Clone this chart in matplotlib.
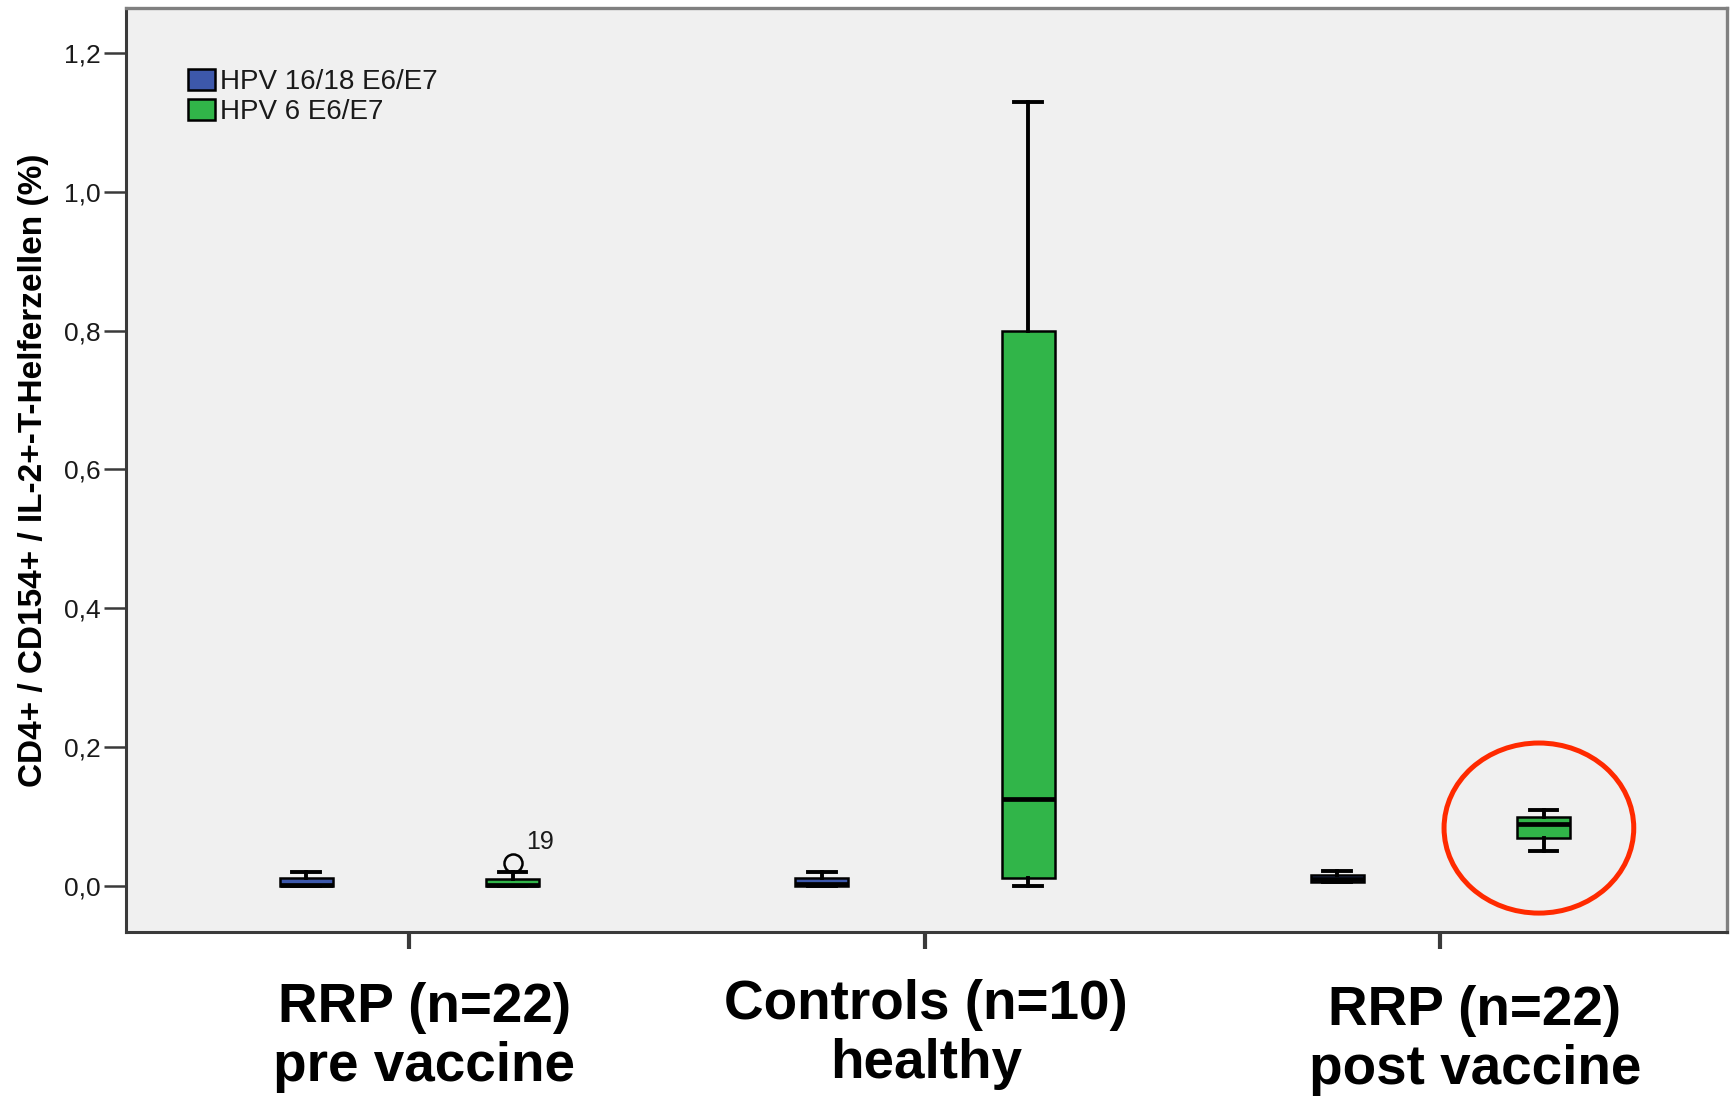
"""Boxplot of CD4+/CD154+/IL-2+ T helper cells per group and antigen."""
import matplotlib

matplotlib.use("Agg")
import matplotlib.pyplot as plt
from matplotlib.patches import Ellipse, Patch
from matplotlib.ticker import FuncFormatter
from matplotlib.transforms import blended_transform_factory

plt.rcParams["font.family"] = ["Liberation Sans", "DejaVu Sans"]

# Data (percent)
groups = ["RRP (n=22)\npre vaccine", "Controls (n=10)\nhealthy", "RRP (n=22)\npost vaccine"]
series = ["HPV 16/18 E6/E7", "HPV 6 E6/E7"]

hpv16_q1 = [0.0, 0.0, 0.006]
hpv16_med = [0.002, 0.003, 0.010]
hpv16_q3 = [0.012, 0.012, 0.016]
hpv16_lo = [0.0, 0.0, 0.006]
hpv16_hi = [0.020, 0.020, 0.022]

hpv6_q1 = [0.0, 0.011, 0.069]
hpv6_med = [0.002, 0.125, 0.090]
hpv6_q3 = [0.010, 0.800, 0.100]
hpv6_lo = [0.0, 0.0, 0.050]
hpv6_hi = [0.020, 1.130, 0.110]
hpv6_fliers = [[0.033], [], []]
flier_labels = [["19"], [], []]

yticks = [0.0, 0.2, 0.4, 0.6, 0.8, 1.0, 1.2]

# Colors
col_bg = "#f0f0f0"
col_blue = "#3d58ab"
col_green = "#31b549"
col_dark = "#3a3a3a"
col_light = "#808080"
col_circle = "#ff2a00"
col_text = "#1a1a1a"

OFFSET = 0.2
BOX_W = 0.103


def make_stats(q1, med, q3, lo, hi, fliers=None):
    stats = []
    for i in range(len(q1)):
        stats.append(
            {
                "q1": q1[i],
                "med": med[i],
                "q3": q3[i],
                "whislo": lo[i],
                "whishi": hi[i],
                "fliers": fliers[i] if fliers else [],
            }
        )
    return stats


fig = plt.figure(figsize=(17.3, 10.96), dpi=100)
ax = fig.add_axes([0.0728, 0.1496, 0.9252, 0.8431])
ax.set_facecolor(col_bg)

centers = list(range(len(groups)))
common = dict(
    widths=BOX_W,
    capwidths=0.054,
    patch_artist=True,
    whiskerprops=dict(color="black", linewidth=2.8),
    capprops=dict(color="black", linewidth=2.8),
    medianprops=dict(color="black", linewidth=3.4),
    flierprops=dict(marker="o", markersize=13, markerfacecolor="none",
                    markeredgecolor="black", markeredgewidth=1.8),
)

ax.bxp(
    make_stats(hpv16_q1, hpv16_med, hpv16_q3, hpv16_lo, hpv16_hi),
    positions=[c - OFFSET for c in centers],
    boxprops=dict(facecolor=col_blue, edgecolor="black", linewidth=1.8),
    **common,
)
ax.bxp(
    make_stats(hpv6_q1, hpv6_med, hpv6_q3, hpv6_lo, hpv6_hi, hpv6_fliers),
    positions=[c + OFFSET for c in centers],
    boxprops=dict(facecolor=col_green, edgecolor="black", linewidth=1.8),
    **common,
)

# Outlier case numbers
for i, (vals, labels) in enumerate(zip(hpv6_fliers, flier_labels)):
    for v, lab in zip(vals, labels):
        ax.annotate(lab, (centers[i] + OFFSET, v), xytext=(20, 15),
                    textcoords="offset points", ha="center", va="center",
                    fontsize=18, color=col_text)

# Highlight circle around post-vaccine HPV 6 box
ax.add_patch(Ellipse((2.191, 0.0835), 0.368, 0.245, fill=False,
                     edgecolor=col_circle, linewidth=3.6))

# Axes
ax.set_xlim(-0.55, 2.555)
ax.set_ylim(-0.0663, 1.2648)
ax.set_xticks(centers)
ax.set_xticklabels([])
ax.set_yticks(yticks)
ax.yaxis.set_major_formatter(FuncFormatter(lambda v, _: f"{v:.1f}".replace(".", ",")))
ax.tick_params(axis="y", direction="out", length=16, width=1.8, color=col_dark,
               labelsize=19, labelcolor=col_text, pad=2)
ax.tick_params(axis="x", direction="out", length=12, width=3, color=col_dark)

for side in ("left", "bottom"):
    ax.spines[side].set_color(col_dark)
    ax.spines[side].set_linewidth(2.2)
for side in ("top", "right"):
    ax.spines[side].set_color(col_light)
    ax.spines[side].set_linewidth(2.4)

ax.set_ylabel("CD4+ / CD154+ / IL-2+-T-Helferzellen (%)", fontsize=24,
              fontweight="bold", va="center")
ax.yaxis.set_label_coords(-0.058, 0.5)

# Legend
handles = [
    Patch(facecolor=col_blue, edgecolor="black", linewidth=1.8, label=series[0]),
    Patch(facecolor=col_green, edgecolor="black", linewidth=1.8, label=series[1]),
]
ax.legend(handles=handles, loc="upper left", bbox_to_anchor=(0.0387, 0.934),
          frameon=False, fontsize=20, handlelength=0.97, handleheight=0.8,
          handletextpad=0.2, labelspacing=0.12, borderpad=0, borderaxespad=0,
          labelcolor=col_text)

# Group labels under the axis
label_x = [0.029, 1.002, 2.067]
label_y = [(0.0675, 0.0135), (0.0703, 0.0160), (0.0648, 0.0110)]
trans = blended_transform_factory(ax.transData, fig.transFigure)
for name, x, (y1, y2) in zip(groups, label_x, label_y):
    line1, line2 = name.split("\n")
    ax.text(x, y1, line1, transform=trans, ha="center", va="baseline",
            fontsize=39.5, fontweight="bold", clip_on=False)
    ax.text(x, y2, line2, transform=trans, ha="center", va="baseline",
            fontsize=39.5, fontweight="bold", clip_on=False)

fig.savefig("out.png", dpi=100, facecolor="white")
